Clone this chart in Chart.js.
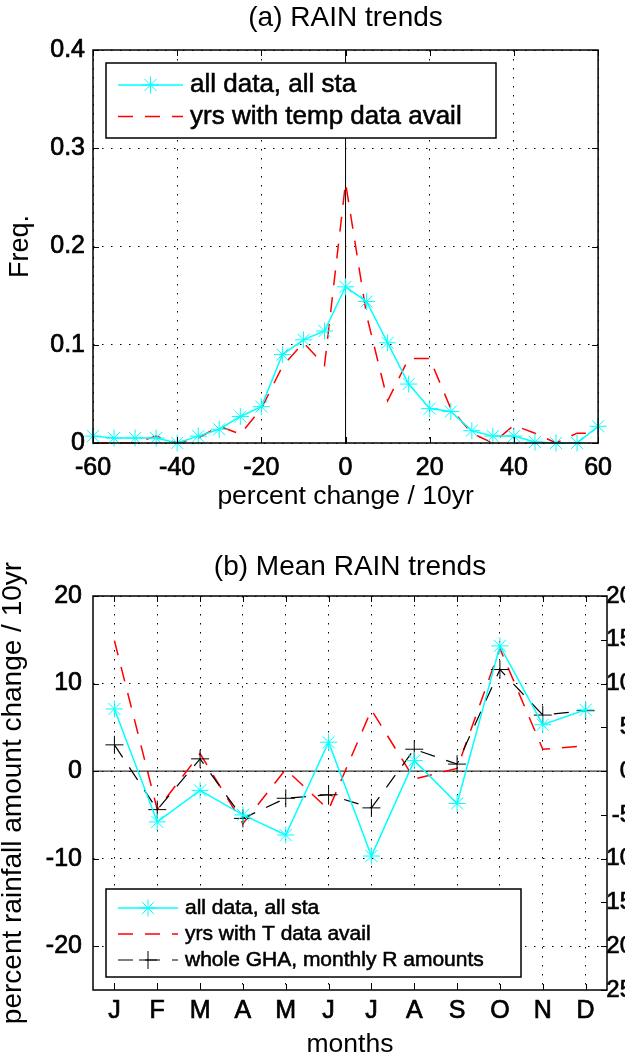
<!DOCTYPE html>
<html>
<head>
<meta charset="utf-8">
<script src="https://cdn.jsdelivr.net/npm/chart.js@4.4.1/dist/chart.umd.min.js"></script>
<style>
  html, body { margin: 0; padding: 0; background: #fff; }
  body { width: 625px; height: 1063px; overflow: hidden; position: relative; }
  canvas { position: absolute; left: 0; }
  #rainHist { top: 0; }
  #rainMonthly { top: 530px; }
</style>
</head>
<body>
<canvas id="rainHist" width="625" height="530"></canvas>
<canvas id="rainMonthly" width="660" height="533"></canvas>
<script>
// (a) distribution of station trends, 5% bins
const trendBins = [-60, -55, -50, -45, -40, -35, -30, -25, -20, -15, -10, -5, 0, 5, 10, 15, 20, 25, 30, 35, 40, 45, 50, 55, 60];
const freqAllSta = [0.007, 0.005, 0.005, 0.005, 0, 0.007, 0.014, 0.027, 0.037, 0.09, 0.105, 0.114, 0.159, 0.144, 0.102, 0.06, 0.035, 0.032, 0.0125, 0.007, 0.007, 0.001, 0, 0, 0.017];
const freqTempYrs = [0, 0, 0, 0.007, 0, 0.005, 0.017, 0.009, 0.035, 0.078, 0.102, 0.079, 0.265, 0.13, 0.043, 0.086, 0.086, 0.035, 0.01, 0, 0.018, 0.01, 0, 0.01, 0.01];
const histXTicks = [-60, -40, -20, 0, 20, 40, 60];
const histYTicks = [0, 0.1, 0.2, 0.3, 0.4];
const histYLabels = ['0', '0.1', '0.2', '0.3', '0.4'];

// (b) mean trend per calendar month
const monthLabels = ['J', 'F', 'M', 'A', 'M', 'J', 'J', 'A', 'S', 'O', 'N', 'D'];
const monthPos = [1, 2, 3, 4, 5, 6, 7, 8, 9, 10, 11, 12];
const meanAllSta = [7.1, -5.8, -2.2, -5.0, -7.3, 3.3, -9.7, 1.2, -3.7, 14.3, 5.3, 7.0];
const meanTempYrs = [14.9, -4.4, 2.0, -6.0, 0.2, -4.4, 7.0, -0.9, 0.3, 14.0, 2.5, 2.9];
const ghaMonthly = [3.0, -4.4, 1.4, -5.4, -3.1, -2.7, -4.2, 2.5, 0.8, 11.6, 6.4, 6.9];
const monthRange = [0.5, 12.5];
const leftTicks = [-20, -10, 0, 10, 20];
const rightTicks = [-25, -20, -15, -10, -5, 0, 5, 10, 15, 20];

const FONT = "'Liberation Sans', Arial, Helvetica, sans-serif";
Chart.defaults.font.family = FONT;
Chart.defaults.color = '#000';

const CYAN = '#00ffff';
const RED = '#ff0000';
const DOTS = [1.5, 7.5];
const DASH = [15, 12];
const HEAVY = 0.7; // matlab text renders a bit heavier than plain regular

// box round the axes plus matlab style inward ticks
const framePlugin = {
  id: 'frame',
  afterDatasetsDraw(chart, args, opts) {
    const ctx = chart.ctx;
    const a = chart.chartArea;
    const len = 6;
    ctx.save();
    ctx.strokeStyle = '#000';
    ctx.lineWidth = 1;
    ctx.setLineDash([]);
    ctx.beginPath();
    (opts.marks || []).forEach(m => {
      const sc = chart.scales[m.scale];
      sc.ticks.forEach(t => {
        const p = Math.round(sc.getPixelForValue(t.value)) + 0.5;
        m.sides.forEach(side => {
          if (side === 'bottom') { ctx.moveTo(p, a.bottom); ctx.lineTo(p, a.bottom - len); }
          if (side === 'top') { ctx.moveTo(p, a.top); ctx.lineTo(p, a.top + len); }
          if (side === 'left') { ctx.moveTo(a.left, p); ctx.lineTo(a.left + len, p); }
          if (side === 'right') { ctx.moveTo(a.right, p); ctx.lineTo(a.right - len, p); }
        });
      });
    });
    ctx.stroke();
    ctx.lineWidth = 1.5;
    ctx.strokeRect(a.left, a.top, a.width, a.height);
    ctx.restore();
  }
};

// legend in a box, each sample is a line with its marker in the middle
const boxLegend = {
  id: 'boxLegend',
  afterDraw(chart, args, o) {
    const ctx = chart.ctx;
    ctx.save();
    ctx.fillStyle = '#fff';
    ctx.fillRect(o.x, o.y, o.w, o.h);
    ctx.strokeStyle = '#000';
    ctx.lineWidth = 1.5;
    ctx.strokeRect(o.x, o.y, o.w, o.h);
    const items = chart.data.datasets.filter(d => d.label);
    items.forEach((d, i) => {
      const cy = o.y + o.firstRow + i * o.rowGap;
      ctx.strokeStyle = d.borderColor;
      ctx.fillStyle = d.borderColor;
      ctx.lineWidth = d.borderWidth;
      ctx.setLineDash(d.borderDash || []);
      ctx.beginPath();
      ctx.moveTo(o.lineX0, cy);
      ctx.lineTo(o.lineX1, cy);
      ctx.stroke();
      ctx.setLineDash([]);
      if (d.pointRadius) {
        ctx.lineWidth = d.pointBorderWidth || 1;
        Chart.helpers.drawPoint(ctx, {
          pointStyle: d.pointStyle, radius: d.pointRadius,
          borderWidth: d.pointBorderWidth || 1, rotation: 0
        }, (o.lineX0 + o.lineX1) / 2, cy);
      }
      ctx.fillStyle = '#000';
      ctx.strokeStyle = '#000';
      ctx.lineWidth = HEAVY * 0.8;
      ctx.font = o.fontSize + 'px ' + FONT;
      ctx.textBaseline = 'middle';
      ctx.textAlign = 'left';
      ctx.fillText(d.label, o.textX, cy);
      ctx.strokeText(d.label, o.textX, cy);
    });
    ctx.restore();
  }
};

const toXY = (xs, ys) => ys.map((v, i) => ({ x: xs[i], y: v }));
const tickFont = { size: 25, lineHeight: 1 };

// ---------- (a) RAIN trends ----------
new Chart(document.getElementById('rainHist'), {
  type: 'line',
  data: {
    datasets: [
      {
        label: 'all data, all sta',
        data: toXY(trendBins, freqAllSta),
        borderColor: CYAN, borderWidth: 1.5,
        pointStyle: 'star', pointRadius: 8.5, pointBorderWidth: 1,
        pointBorderColor: CYAN, pointBackgroundColor: CYAN,
        tension: 0, clip: false, order: 0
      },
      {
        label: 'yrs with temp data avail',
        data: toXY(trendBins, freqTempYrs),
        borderColor: RED, borderWidth: 1.5, borderDash: DASH,
        pointRadius: 0, tension: 0, clip: false, order: 1
      },
      {
        data: [{ x: 0, y: histYTicks[0] }, { x: 0, y: histYTicks[histYTicks.length - 1] }],
        borderColor: '#000', borderWidth: 1, pointRadius: 0, order: 5
      }
    ]
  },
  options: {
    responsive: false,
    animation: false,
    events: [],
    layout: { padding: { left: 0, right: 18, top: 0, bottom: 0 } },
    plugins: {
      legend: { display: false },
      tooltip: { enabled: false },
      title: {
        display: true, fullSize: false, text: '(a) RAIN trends', color: '#000',
        font: { size: 28, weight: 'normal', lineHeight: 1 },
        padding: { top: 4, bottom: 18 }
      },
      frame: {
        marks: [
          { scale: 'x', sides: ['bottom', 'top'] },
          { scale: 'y', sides: ['left', 'right'] }
        ]
      },
      boxLegend: {
        x: 106, y: 63, w: 390, h: 75, firstRow: 22, rowGap: 31.5,
        lineX0: 118, lineX1: 183, textX: 190, fontSize: 26
      }
    },
    scales: {
      x: {
        type: 'linear', min: -60, max: 60,
        afterBuildTicks: s => { s.ticks = histXTicks.map(v => ({ value: v })); },
        afterFit: s => { s.height = 87; },
        ticks: { font: tickFont, padding: 13, maxRotation: 0, textStrokeColor: '#000', textStrokeWidth: HEAVY },
        grid: { drawTicks: false, color: '#000', lineWidth: 1 },
        border: { display: false, dash: DOTS },
        title: {
          display: true, text: 'percent change / 10yr',
          font: { size: 26.5, lineHeight: 1 }, padding: { top: 0, bottom: 20 }
        }
      },
      y: {
        min: 0, max: 0.4,
        afterBuildTicks: s => { s.ticks = histYTicks.map(v => ({ value: v })); },
        afterFit: s => { s.width = 93; },
        ticks: { font: tickFont, padding: 8, callback: (v, i) => histYLabels[i], textStrokeColor: '#000', textStrokeWidth: HEAVY },
        grid: { drawTicks: false, color: '#000', lineWidth: 1 },
        border: { display: false, dash: DOTS },
        title: {
          display: true, text: 'Freq.',
          font: { size: 27, lineHeight: 1 }, padding: { top: 7, bottom: 0 }
        }
      }
    }
  },
  plugins: [framePlugin, boxLegend]
});

// ---------- (b) Mean RAIN trends ----------
new Chart(document.getElementById('rainMonthly'), {
  type: 'line',
  data: {
    datasets: [
      {
        label: 'all data, all sta',
        data: toXY(monthPos, meanAllSta),
        borderColor: CYAN, borderWidth: 1.5,
        pointStyle: 'star', pointRadius: 8.5, pointBorderWidth: 1,
        pointBorderColor: CYAN, pointBackgroundColor: CYAN,
        tension: 0, clip: false, order: 0
      },
      {
        label: 'yrs with T data avail',
        data: toXY(monthPos, meanTempYrs),
        borderColor: RED, borderWidth: 1.5, borderDash: DASH,
        pointRadius: 0, tension: 0, clip: false, order: 2
      },
      {
        label: 'whole GHA, monthly R amounts',
        data: toXY(monthPos, ghaMonthly),
        borderColor: '#000', borderWidth: 1.2, borderDash: DASH,
        pointStyle: 'cross', pointRadius: 9, pointBorderWidth: 1,
        pointBorderColor: '#000', pointBackgroundColor: '#000',
        tension: 0, clip: false, order: 1
      },
      {
        data: [{ x: monthRange[0], y: 0 }, { x: monthRange[1], y: 0 }],
        borderColor: '#000', borderWidth: 1, pointRadius: 0, order: 5
      }
    ]
  },
  options: {
    responsive: false,
    animation: false,
    events: [],
    layout: { padding: { left: 0, right: 27, top: 0, bottom: 0 } },
    plugins: {
      legend: { display: false },
      tooltip: { enabled: false },
      title: {
        display: true, fullSize: false, text: '(b) Mean RAIN trends', color: '#000',
        font: { size: 28, weight: 'normal', lineHeight: 1 },
        padding: { top: 23, bottom: 15 }
      },
      frame: {
        marks: [
          { scale: 'x', sides: ['bottom', 'top'] },
          { scale: 'y', sides: ['left'] },
          { scale: 'y2', sides: ['right'] }
        ]
      },
      boxLegend: {
        x: 106, y: 359, w: 415, h: 88, firstRow: 19, rowGap: 26,
        lineX0: 118, lineX1: 178, textX: 185, fontSize: 21
      }
    },
    scales: {
      x: {
        type: 'linear', min: monthRange[0], max: monthRange[1],
        afterBuildTicks: s => { s.ticks = monthPos.map(v => ({ value: v })); },
        afterFit: s => { s.height = 73; },
        ticks: { font: tickFont, padding: 9, maxRotation: 0, callback: (v, i) => monthLabels[i], textStrokeColor: '#000', textStrokeWidth: HEAVY },
        grid: { drawTicks: false, color: '#000', lineWidth: 1 },
        border: { display: false, dash: DOTS },
        title: {
          display: true, text: 'months',
          font: { size: 26.5, lineHeight: 1 }, padding: { top: 0, bottom: 5 }
        }
      },
      y: {
        position: 'left', min: -25, max: 20,
        afterBuildTicks: s => { s.ticks = leftTicks.map(v => ({ value: v })); },
        afterFit: s => { s.width = 93; },
        ticks: { font: tickFont, padding: 11, textStrokeColor: '#000', textStrokeWidth: HEAVY },
        grid: { drawTicks: false, color: '#000', lineWidth: 1 },
        border: { display: false, dash: DOTS },
        title: {
          display: true, text: 'percent rainfall amount change / 10yr',
          font: { size: 28, lineHeight: 0.96 }, padding: { top: 0, bottom: 0 }
        }
      },
      y2: {
        display: true, position: 'right', min: -25, max: 20,
        afterBuildTicks: s => { s.ticks = rightTicks.map(v => ({ value: v })); },
        afterFit: s => { s.width = 26; },
        ticks: { font: { size: 24, lineHeight: 1 }, padding: 0, crossAlign: 'far', textStrokeColor: '#000', textStrokeWidth: HEAVY },
        grid: { display: false, drawTicks: false },
        border: { display: false }
      }
    }
  },
  plugins: [framePlugin, boxLegend]
});
</script>
</body>
</html>
